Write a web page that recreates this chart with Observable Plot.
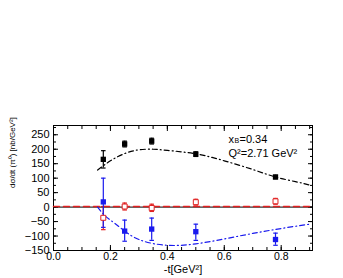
<!DOCTYPE html>
<html><head><meta charset="utf-8">
<script src="https://cdn.jsdelivr.net/npm/d3@7"></script>
<script src="https://cdn.jsdelivr.net/npm/@observablehq/plot@0.6"></script>
<style>body{margin:0;background:#fff;font-family:"Liberation Sans",Arial,sans-serif}</style>
</head><body><div id="chart"></div>
<script>
const tVals = [0.175, 0.25, 0.345, 0.5, 0.78];
const blackY = [165, 218, 228, 183, 104];
const blackErr = [30, 10, 10, 8, 6];
const redY = [-37, 2, -3, 17, 20];
const redLo = [-78, -10, -15, 7, 10];
const redHi = [2, 14, 10, 27, 30];
const blueY = [18, -83, -76, -85, -112];
const blueLo = [-70, -118, -115, -115, -132];
const blueHi = [100, -45, -38, -59, -90];
const curveT = [0.155, 0.2, 0.25, 0.3, 0.35, 0.4, 0.5, 0.6, 0.7, 0.78, 0.85, 0.9];
const blackCurve = [128, 160, 185, 198, 200, 196, 184, 160, 130, 104, 88, 76];
const blueCurveT = [0.155, 0.176, 0.2, 0.236, 0.3, 0.4, 0.5, 0.6, 0.7, 0.8, 0.9];
const blueCurve = [0, -25, -45, -72, -112, -132, -127, -110, -91, -74, -59];
const redLineT = [0.0, 0.91];
const redLine = [2, 2];
const xTicks = [0, 0.2, 0.4, 0.6, 0.8];
const yTicks = [-150, -100, -50, 0, 50, 100, 150, 200, 250];

const pts = tVals.map((t, i) => ({t, by: blackY[i], bLo: blackY[i]-blackErr[i], bHi: blackY[i]+blackErr[i],
  ry: redY[i], rLo: redLo[i], rHi: redHi[i], uy: blueY[i], uLo: blueLo[i], uHi: blueHi[i]}));
const bc = curveT.map((t,i)=>({t, y: blackCurve[i]}));
const uc = blueCurveT.map((t,i)=>({t, y: blueCurve[i]}));
const rl = redLineT.map((t,i)=>({t, y: redLine[i]}));
const cap = 0.008;
function errMarks(lo, hi, color) {
  return [
    Plot.ruleX(pts, {x: "t", y1: lo, y2: hi, stroke: color, strokeWidth: 1.2}),
    Plot.link(pts, {x1: d=>d.t-cap, x2: d=>d.t+cap, y1: lo, y2: lo, stroke: color, strokeWidth: 1.2}),
    Plot.link(pts, {x1: d=>d.t-cap, x2: d=>d.t+cap, y1: hi, y2: hi, stroke: color, strokeWidth: 1.2})
  ];
}
const none = () => "";
const minorY = d3.range(-150, 281, 25);
const minorX = d3.range(0, 0.91, 0.05);
const chart = Plot.plot({
  width: 343, height: 278,
  marginLeft: 53, marginRight: 31, marginTop: 125, marginBottom: 28,
  x: {domain: [0, 0.91]},
  y: {domain: [-150, 282]},
  style: {fontFamily: "Liberation Sans, Arial, sans-serif", fontSize: "10px", color: "#000"},
  marks: [
    Plot.frame({stroke: "#000", strokeWidth: 1}),
    Plot.axisX({ticks: xTicks, tickFormat: d3.format(".1f"), tickSize: -5, tickPadding: 7, fontSize: 10.5, label: null}),
    Plot.axisX({anchor: "top", ticks: xTicks, tickFormat: none, tickSize: -5, label: null}),
    Plot.axisX({ticks: minorX, tickFormat: none, tickSize: -3, label: null}),
    Plot.axisX({anchor: "top", ticks: minorX, tickFormat: none, tickSize: -3, label: null}),
    Plot.axisY({ticks: yTicks, tickSize: -5, tickPadding: 9, fontSize: 11, label: null}),
    Plot.axisY({anchor: "right", ticks: yTicks, tickFormat: none, tickSize: -5, label: null}),
    Plot.axisY({ticks: minorY, tickFormat: none, tickSize: -3, label: null}),
    Plot.axisY({anchor: "right", ticks: minorY, tickFormat: none, tickSize: -3, label: null}),
    Plot.ruleY([0], {stroke: "#000", strokeWidth: 1}),
    Plot.line(rl, {x: "t", y: "y", stroke: "#e02020", strokeWidth: 1.5, strokeDasharray: "6,4"}),
    Plot.line(bc, {x: "t", y: "y", stroke: "#000", strokeWidth: 1.2, strokeDasharray: "5,3,1,3", curve: "natural"}),
    Plot.line(uc, {x: "t", y: "y", stroke: "#1a1aee", strokeWidth: 1.2, strokeDasharray: "5,3,1,3", curve: "natural"}),
    ...errMarks("bLo", "bHi", "#000"),
    ...errMarks("rLo", "rHi", "#e02020"),
    ...errMarks("uLo", "uHi", "#1a1aee"),
    Plot.dot(pts, {x: "t", y: "by", symbol: "square", r: 3, fill: "#000"}),
    Plot.dot(pts, {x: "t", y: "ry", symbol: "square", r: 2.8, fill: "#fff", stroke: "#e02020", strokeWidth: 1}),
    Plot.dot(pts, {x: "t", y: "uy", symbol: "square", r: 3, fill: "#1a1aee"}),
    Plot.text(["x"], {frameAnchor: "top-right", dx: -84, dy: 10, text: d => d, textAnchor: "start", fontSize: 11}),
    Plot.text(["B"], {frameAnchor: "top-right", dx: -78, dy: 13, text: d => d, textAnchor: "start", fontSize: 7}),
    Plot.text(["=0.34"], {frameAnchor: "top-right", dx: -73, dy: 10, text: d => d, textAnchor: "start", fontSize: 11}),
    Plot.text(["Q²=2.71 GeV²"], {frameAnchor: "top-right", dx: -84, dy: 24, text: d => d, textAnchor: "start", fontSize: 11}),
    Plot.text(["-t[GeV²]"], {frameAnchor: "bottom", dy: 22, text: d => d, fontSize: 11}),
    Plot.text(["dσ/dt (π⁰) [nb/GeV²]"], {frameAnchor: "left", dx: -41, rotate: -90, text: d => d, fontSize: 8})
  ]
});
document.getElementById("chart").appendChild(chart);
</script></body></html>
